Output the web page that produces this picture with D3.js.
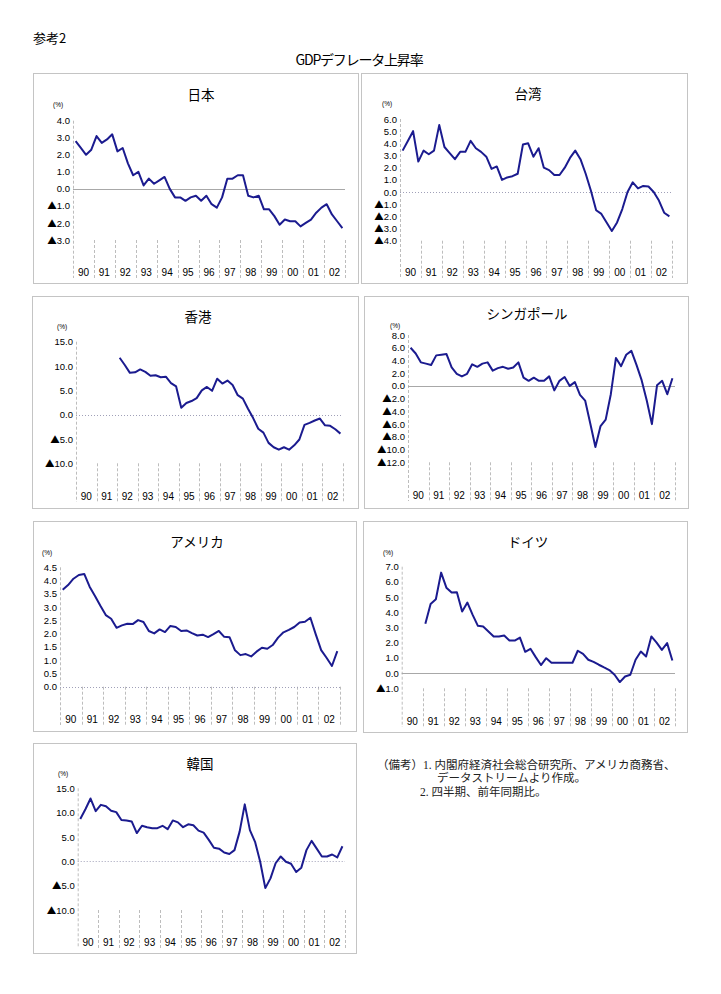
<!DOCTYPE html>
<html>
<head>
<meta charset="utf-8">
<script src="https://cdn.jsdelivr.net/npm/d3@7"></script>
<style>
  body { margin: 0; background: #fff; }
  svg { display: block; }
  text { font-family: "Liberation Sans", "Noto Sans CJK JP", sans-serif; fill: #000; }
  .jp { font-family: "Noto Sans CJK JP", sans-serif; }
  .note { font-family: "Liberation Serif", "Noto Sans CJK JP", serif; }
</style>
</head>
<body>
<svg id="chart" width="721" height="994"></svg>
<script>
// year labels on the category axis, each split into four quarters
var years = ['90', '91', '92', '93', '94', '95', '96', '97', '98', '99', '00', '01', '02'];
var quarters = [];
years.forEach(function(y) {
  for (var q = 1; q <= 4; q++) quarters.push(y + 'Q' + q);
});

// GDP deflator, % change from same quarter a year earlier
var japan = [2.8, 2.4, 2.0, 2.3, 3.1, 2.7, 2.9, 3.2, 2.2, 2.4, 1.5, 0.8, 1.0, 0.2, 0.6, 0.3,
  0.5, 0.7, 0.0, -0.5, -0.5, -0.7, -0.5, -0.4, -0.7, -0.4, -0.9, -1.1, -0.5, 0.6, 0.6, 0.8,
  0.8, -0.4, -0.5, -0.4, -1.2, -1.2, -1.6, -2.1, -1.8, -1.9, -1.9, -2.2, -2.0, -1.8, -1.4, -1.1,
  -0.9, -1.5, -1.9, -2.3];
var taiwan = [3.4, 4.2, 5.0, 2.5, 3.4, 3.1, 3.4, 5.5, 3.7, 3.2, 2.7, 3.3, 3.3, 4.2, 3.6, 3.3,
  2.9, 1.9, 2.1, 1.0, 1.2, 1.3, 1.5, 3.9, 4.0, 2.9, 3.6, 2.0, 1.8, 1.4, 1.4, 2.0,
  2.8, 3.4, 2.7, 1.5, 0.1, -1.5, -1.8, -2.5, -3.2, -2.5, -1.4, 0.0, 0.8, 0.3, 0.5, 0.45,
  0.0, -0.7, -1.7, -2.0];
var hongkong = [null, null, null, null, null, null, null, null, 11.7, 10.2, 8.6, 8.7, 9.3, 8.8, 8.0, 8.1,
  7.7, 7.8, 6.5, 5.8, 1.4, 2.4, 2.8, 3.4, 5.0, 5.7, 4.9, 7.4, 6.4, 7.0, 6.1, 4.0,
  3.3, 1.2, -0.7, -2.9, -3.7, -5.8, -6.7, -7.2, -6.7, -7.2, -6.3, -5.1, -2.1, -1.7, -1.2, -0.8,
  -2.2, -2.3, -3.0, -3.9];
var singapore = [6.0, 5.1, 3.7, 3.5, 3.3, 4.8, 4.9, 5.0, 2.9, 1.9, 1.5, 1.9, 3.4, 3.0, 3.5, 3.7,
  2.4, 2.8, 3.0, 2.7, 2.9, 3.7, 1.3, 0.8, 1.3, 0.8, 0.8, 1.5, -0.7, 0.8, 1.4, 0.0,
  0.6, -1.4, -2.3, -5.9, -9.6, -6.3, -5.3, -1.3, 4.4, 3.1, 4.9, 5.5, 3.3, 0.9, -2.3, -6.0,
  0.1, 0.8, -1.3, 1.2];
var usa = [3.65, 3.83, 4.07, 4.21, 4.25, 3.77, 3.42, 3.05, 2.70, 2.56, 2.22, 2.31, 2.37, 2.36, 2.51, 2.44,
  2.10, 2.01, 2.16, 2.06, 2.29, 2.25, 2.10, 2.12, 2.02, 1.93, 1.96, 1.87, 1.98, 2.10, 1.88, 1.86,
  1.37, 1.19, 1.23, 1.14, 1.32, 1.47, 1.43, 1.57, 1.85, 2.05, 2.14, 2.25, 2.42, 2.45, 2.60, 1.97,
  1.38, 1.09, 0.78, 1.34];
var germany = [null, null, null, null, 3.24, 4.55, 4.86, 6.61, 5.62, 5.30, 5.32, 4.05, 4.64, 3.83, 3.11, 3.06,
  2.74, 2.41, 2.41, 2.47, 2.14, 2.14, 2.34, 1.40, 1.60, 1.05, 0.53, 0.98, 0.68, 0.68, 0.68, 0.68,
  0.68, 1.47, 1.27, 0.88, 0.74, 0.55, 0.37, 0.20, -0.11, -0.59, -0.22, -0.11, 0.88, 1.42, 1.09, 2.41,
  2.01, 1.53, 1.97, 0.83];
var korea = [8.7, 10.7, 12.9, 10.3, 11.6, 11.3, 10.4, 10.1, 8.5, 8.4, 8.2, 5.8, 7.3, 7.0, 6.8, 6.8,
  7.3, 6.6, 8.4, 8.0, 7.0, 7.6, 7.4, 6.3, 5.9, 4.4, 2.8, 2.6, 1.8, 1.5, 2.3, 6.1,
  11.7, 6.4, 4.0, -0.1, -5.5, -3.5, -0.4, 1.0, -0.1, -0.5, -2.2, -1.3, 2.3, 4.2, 2.6, 1.0,
  1.0, 1.4, 0.8, 3.1];

// y tick values of each panel
var japanTicks = [4, 3, 2, 1, 0, -1, -2, -3];
var taiwanTicks = [6, 5, 4, 3, 2, 1, 0, -1, -2, -3, -4];
var hongkongTicks = [15, 10, 5, 0, -5, -10];
var singaporeTicks = [8, 6, 4, 2, 0, -2, -4, -6, -8, -10, -12];
var usaTicks = [4.5, 4, 3.5, 3, 2.5, 2, 1.5, 1, 0.5, 0];
var germanyTicks = [7, 6, 5, 4, 3, 2, 1, 0, -1];
var koreaTicks = [15, 10, 5, 0, -5, -10];

var panels = [
  {title: '日本', values: japan, ticks: japanTicks, box: [33, 73, 358, 283],
   x: [73, 345], y: [120.7, 240], labelY: 272, head: [201, 94], pct: [53, 104], zero: 'solid'},
  {title: '台湾', values: taiwan, ticks: taiwanTicks, box: [361, 73, 687, 283],
   x: [400, 672], y: [119, 240.7], labelY: 272, head: [528, 93], pct: [382, 103], zero: 'dot'},
  {title: '香港', values: hongkong, ticks: hongkongTicks, box: [32, 296, 358, 508],
   x: [76, 343], y: [341.7, 463.3], labelY: 496, head: [198, 316], pct: [57, 326], zero: 'dot'},
  {title: 'シンガポール', values: singapore, ticks: singaporeTicks, box: [364, 296, 688, 508],
   x: [408, 675], y: [335, 462.3], labelY: 495, head: [527, 313], pct: [390, 325], zero: 'solid'},
  {title: 'アメリカ', values: usa, ticks: usaTicks, box: [33, 521, 356, 731],
   x: [60, 340], y: [567.3, 686.7], labelY: 719, head: [197, 541], pct: [42, 552], zero: 'dot'},
  {title: 'ドイツ', values: germany, ticks: germanyTicks, box: [363, 521, 687, 732],
   x: [401.7, 675], y: [566.7, 688.3], labelY: 721, head: [528, 541], pct: [383, 552], zero: 'solid'},
  {title: '韓国', values: korea, ticks: koreaTicks, box: [33, 743, 356, 953],
   x: [77.7, 345], y: [788.3, 910], labelY: 942, head: [200, 763], pct: [58, 773], zero: 'dot'}
];

function drawPanel(svg, p) {
  var g = svg.append('g');
  var x = d3.scaleBand().domain(quarters).range(p.x);
  var xYear = d3.scaleBand().domain(years).range(p.x);
  var y = d3.scaleLinear().domain([d3.max(p.ticks), d3.min(p.ticks)]).range(p.y);
  var sepBottom = p.labelY + 6;

  g.append('rect')
      .attr('x', p.box[0] + 0.5)
      .attr('y', p.box[1] + 0.5)
      .attr('width', p.box[2] - p.box[0])
      .attr('height', p.box[3] - p.box[1])
      .style('fill', '#fff')
      .style('stroke', '#c4c4c4');

  g.append('text')
      .attr('class', 'jp')
      .attr('x', p.head[0])
      .attr('y', p.head[1])
      .attr('text-anchor', 'middle')
      .attr('dominant-baseline', 'central')
      .style('font-size', '13.5px')
      .text(p.title);

  g.append('text')
      .attr('x', p.pct[0])
      .attr('y', p.pct[1])
      .attr('dominant-baseline', 'central')
      .style('font-size', '6.5px')
      .text('(%)');

  // y axis, drawn as a dashed line
  g.append('line')
      .attr('x1', p.x[0] + 0.5).attr('x2', p.x[0] + 0.5)
      .attr('y1', y.range()[0]).attr('y2', sepBottom)
      .style('stroke', '#bdbdbd')
      .style('stroke-dasharray', '3,2');

  var yAxis = g.append('g')
      .attr('transform', 'translate(' + p.x[0] + ',0)')
      .call(d3.axisLeft(y).tickValues(p.ticks).tickFormat(function(v) { return Math.abs(v).toFixed(1); })
          .tickSize(0).tickPadding(3));
  yAxis.select('.domain').remove();
  yAxis.selectAll('text')
      .style('font-size', '9.5px')
      .style('font-family', '"Liberation Sans", sans-serif')
      .each(function(v) {
        if (v >= 0) return;
        // negatives are written with a black triangle instead of a minus sign
        var t = d3.select(this), s = t.text();
        t.text(null);
        t.append('tspan').style('font-family', '"Noto Sans CJK JP", sans-serif').text('▲');
        t.append('tspan').text(s);
      });

  // year separators below the plot
  var bounds = years.map(function(yr) { return xYear(yr); }).concat([p.x[1]]);
  g.selectAll('.sep')
      .data(bounds.slice(1))
    .enter().append('line')
      .attr('x1', function(d) { return Math.round(d) + 0.5; })
      .attr('x2', function(d) { return Math.round(d) + 0.5; })
      .attr('y1', y.range()[1])
      .attr('y2', sepBottom)
      .style('stroke', '#bdbdbd')
      .style('stroke-dasharray', '3,2');

  g.selectAll('.yr')
      .data(years)
    .enter().append('text')
      .attr('x', function(d) { return xYear(d) + xYear.bandwidth() / 2; })
      .attr('y', p.labelY)
      .attr('text-anchor', 'middle')
      .attr('dominant-baseline', 'central')
      .style('font-size', '10px')
      .text(function(d) { return d; });

  // zero line
  g.append('line')
      .attr('x1', p.x[0]).attr('x2', p.x[1])
      .attr('y1', Math.round(y(0)) + 0.5).attr('y2', Math.round(y(0)) + 0.5)
      .style('stroke', p.zero === 'solid' ? '#a8a8a8' : '#a0a0b8')
      .style('stroke-dasharray', p.zero === 'solid' ? null : '1,2');

  var line = d3.line()
      .defined(function(d) { return d != null; })
      .x(function(d, i) { return x(quarters[i]) + x.bandwidth() / 2; })
      .y(function(d) { return y(d); });

  g.append('path')
      .datum(p.values)
      .attr('d', line)
      .style('fill', 'none')
      .style('stroke', '#1b1b8f')
      .style('stroke-width', '2px')
      .style('stroke-linejoin', 'round');
}

var svg = d3.select('#chart');

svg.append('text')
    .attr('class', 'jp')
    .attr('x', 33)
    .attr('y', 37)
    .attr('dominant-baseline', 'central')
    .style('font-size', '13px')
    .text('参考2');

svg.append('text')
    .attr('class', 'jp')
    .attr('x', 359)
    .attr('y', 59)
    .attr('text-anchor', 'middle')
    .attr('dominant-baseline', 'central')
    .style('font-size', '14px')
    .style('letter-spacing', '-1.2px')
    .text('GDPデフレータ上昇率');

panels.forEach(function(p) { drawPanel(svg, p); });

var notes = [
  {x: 377, y: 765, t: '（備考）1.  内閣府経済社会総合研究所、アメリカ商務省、'},
  {x: 437, y: 778, t: 'データストリームより作成。'},
  {x: 420, y: 792, t: '2.  四半期、前年同期比。'}
];
svg.selectAll('.note')
    .data(notes)
  .enter().append('text')
    .attr('class', 'note')
    .attr('x', function(d) { return d.x; })
    .attr('y', function(d) { return d.y; })
    .attr('dominant-baseline', 'central')
    .style('font-size', '11.5px')
    .style('fill', '#222')
    .text(function(d) { return d.t; });
</script>
</body>
</html>
